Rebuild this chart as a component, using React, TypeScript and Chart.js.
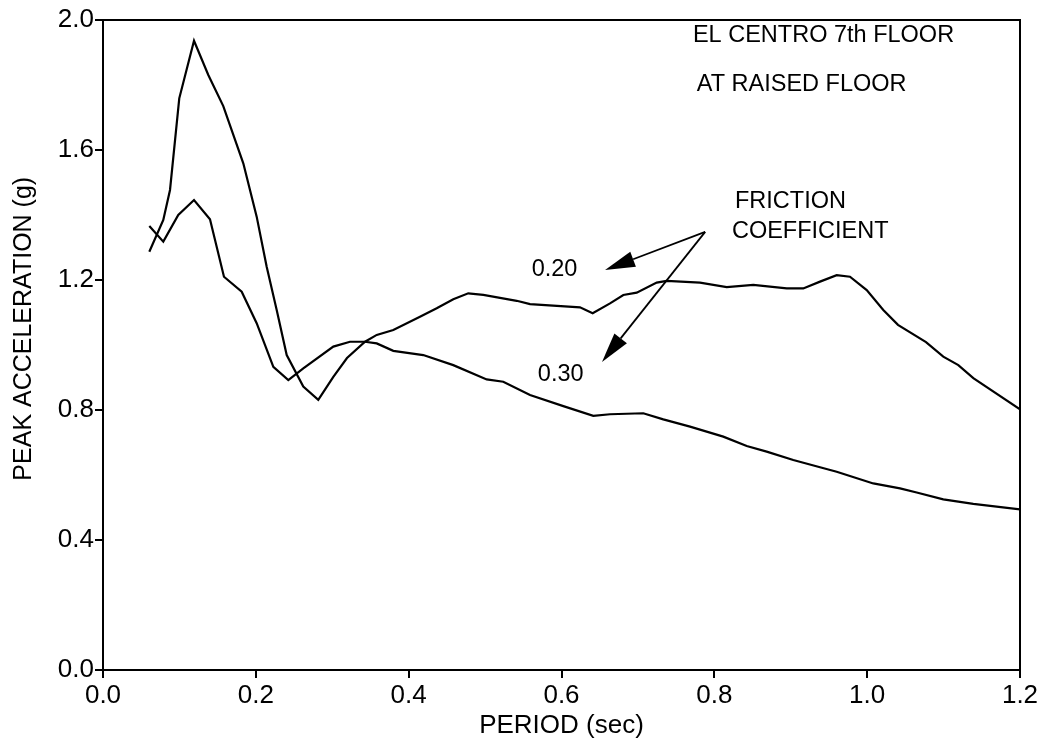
import React, { useEffect, useRef } from "react";
import { Chart, registerables } from "chart.js";

Chart.register(...registerables);

// Friction coefficient 0.20 (tall early peak, stays high)
const periodA = [0.0606, 0.0789, 0.0877, 0.0998, 0.1191, 0.1378, 0.1574, 0.1836, 0.2011, 0.2142, 0.2273, 0.2404, 0.2621, 0.2817, 0.3014, 0.3193, 0.3429, 0.3582, 0.3799, 0.4148, 0.4367, 0.4584, 0.478, 0.4977, 0.5414, 0.5588, 0.6242, 0.6408, 0.6635, 0.6809, 0.6984, 0.7246, 0.7377, 0.7812, 0.8162, 0.851, 0.8947, 0.9164, 0.9383, 0.9601, 0.9775, 0.9994, 1.0211, 1.0403, 1.077, 1.0996, 1.1193, 1.1389, 1.2];
const accelA = [1.287, 1.385, 1.477, 1.759, 1.936, 1.831, 1.735, 1.559, 1.395, 1.241, 1.108, 0.969, 0.872, 0.831, 0.902, 0.96, 1.01, 1.031, 1.046, 1.087, 1.113, 1.141, 1.159, 1.154, 1.136, 1.126, 1.116, 1.098, 1.128, 1.154, 1.161, 1.192, 1.197, 1.192, 1.178, 1.185, 1.174, 1.174, 1.195, 1.215, 1.21, 1.169, 1.108, 1.062, 1.009, 0.964, 0.938, 0.898, 0.802];

// Friction coefficient 0.30
const periodB = [0.0606, 0.0789, 0.0985, 0.1191, 0.14, 0.1583, 0.1815, 0.2011, 0.2229, 0.2425, 0.2621, 0.3014, 0.3232, 0.3429, 0.3582, 0.3799, 0.4191, 0.4584, 0.5021, 0.5238, 0.5588, 0.6024, 0.6416, 0.6635, 0.707, 0.7332, 0.7682, 0.8117, 0.8424, 0.8685, 0.9033, 0.9383, 0.9601, 1.008, 1.043, 1.0648, 1.0996, 1.1389, 1.2];
const accelB = [1.366, 1.318, 1.4, 1.446, 1.387, 1.21, 1.164, 1.067, 0.933, 0.892, 0.928, 0.995, 1.01, 1.01, 1.005, 0.982, 0.969, 0.938, 0.894, 0.887, 0.846, 0.812, 0.782, 0.787, 0.79, 0.771, 0.749, 0.718, 0.689, 0.672, 0.646, 0.624, 0.61, 0.574, 0.559, 0.546, 0.525, 0.511, 0.494];

const xTickValues = [0, 0.2, 0.4, 0.6, 0.8, 1.0, 1.2];
const yTickValues = [0, 0.4, 0.8, 1.2, 1.6, 2.0];

const xTitle = "PERIOD (sec)";
const yTitle = "PEAK ACCELERATION (g)";
// value on the y axis where the rotated y title is centred
const yTitleCenter = 1.05;

// Annotation texts, anchored in data coordinates (left edge, vertical middle)
const noteTexts = ["EL CENTRO 7th FLOOR", "AT RAISED FLOOR", "FRICTION", "COEFFICIENT", "0.20", "0.30"];
const noteX = [0.772, 0.777, 0.827, 0.823, 0.561, 0.569];
const noteY = [1.951, 1.803, 1.443, 1.348, 1.231, 0.908];

// Arrows from the "FRICTION COEFFICIENT" label to each curve label
const arrowStart = [0.788, 1.348];
const arrowTipX = [0.657, 0.653];
const arrowTipY = [1.231, 0.948];

const FONT = '"Liberation Sans", Arial, Helvetica, sans-serif';

const framePlugin = {
  id: "frame",
  afterDraw(chart: any) {
    const { ctx, chartArea } = chart;
    const { left, top, right, bottom } = chartArea;
    ctx.save();
    ctx.strokeStyle = "#000";
    ctx.lineWidth = 2;
    ctx.strokeRect(left, top, right - left, bottom - top);
    ctx.restore();
  },
};

const notesPlugin = {
  id: "notes",
  afterDraw(chart: any) {
    const { ctx } = chart;
    const xs = chart.scales.x;
    const ys = chart.scales.y;
    ctx.save();
    ctx.fillStyle = "#000";
    // rotated y-axis title
    ctx.save();
    ctx.translate(24, ys.getPixelForValue(yTitleCenter));
    ctx.rotate(-Math.PI / 2);
    ctx.font = `25px ${FONT}`;
    ctx.textAlign = "center";
    ctx.textBaseline = "middle";
    ctx.fillText(yTitle, 0, 0);
    ctx.restore();

    ctx.font = `23.5px ${FONT}`;
    ctx.textAlign = "left";
    ctx.textBaseline = "middle";
    noteTexts.forEach((t, i) => {
      ctx.fillText(t, xs.getPixelForValue(noteX[i]), ys.getPixelForValue(noteY[i]));
    });
    const sx = xs.getPixelForValue(arrowStart[0]);
    const sy = ys.getPixelForValue(arrowStart[1]);
    ctx.strokeStyle = "#000";
    ctx.lineWidth = 1.8;
    arrowTipX.forEach((_, i) => {
      const tx = xs.getPixelForValue(arrowTipX[i]);
      const ty = ys.getPixelForValue(arrowTipY[i]);
      const ang = Math.atan2(ty - sy, tx - sx);
      const headLen = 30;
      const halfW = 8;
      const bx = tx - headLen * Math.cos(ang);
      const by = ty - headLen * Math.sin(ang);
      ctx.beginPath();
      ctx.moveTo(sx, sy);
      ctx.lineTo(bx, by);
      ctx.stroke();
      ctx.beginPath();
      ctx.moveTo(tx, ty);
      ctx.lineTo(bx + halfW * Math.sin(ang), by - halfW * Math.cos(ang));
      ctx.lineTo(bx - halfW * Math.sin(ang), by + halfW * Math.cos(ang));
      ctx.closePath();
      ctx.fill();
    });
    ctx.restore();
  },
};

export default function App() {
  const canvasRef = useRef<HTMLCanvasElement | null>(null);

  useEffect(() => {
    const canvas = canvasRef.current;
    if (!canvas) return;
    const dataA = periodA.map((x, i) => ({ x, y: accelA[i] }));
    const dataB = periodB.map((x, i) => ({ x, y: accelB[i] }));
    const chart = new Chart(canvas, {
      type: "line",
      data: {
        datasets: [
          { label: "0.20", data: dataA, borderColor: "#000", borderWidth: 2.2, pointRadius: 0, tension: 0, fill: false },
          { label: "0.30", data: dataB, borderColor: "#000", borderWidth: 2.2, pointRadius: 0, tension: 0, fill: false },
        ],
      },
      options: {
        animation: false,
        responsive: false,
        devicePixelRatio: 1,
        layout: { padding: { left: 0, top: 20, right: 32, bottom: 0 } },
        plugins: { legend: { display: false }, tooltip: { enabled: false } },
        scales: {
          x: {
            type: "linear",
            min: 0,
            max: 1.2,
            afterFit: (s: any) => { s.height = 77; },
            afterBuildTicks: (s: any) => { s.ticks = xTickValues.map((v) => ({ value: v })); },
            ticks: {
              color: "#000",
              padding: 2,
              maxRotation: 0,
              autoSkip: false,
              font: { family: FONT, size: 26 },
              callback: (v: any) => Number(v).toFixed(1),
            },
            grid: { drawOnChartArea: false, drawTicks: true, tickLength: 8, color: "#000", lineWidth: 2 },
            border: { display: true, color: "#000", width: 2 },
            title: { display: true, text: xTitle, color: "#000", font: { family: FONT, size: 26 }, padding: { top: 0, bottom: 6 } },
          },
          y: {
            type: "linear",
            min: 0,
            max: 2.0,
            afterFit: (s: any) => { s.width = 103; },
            afterBuildTicks: (s: any) => { s.ticks = yTickValues.map((v) => ({ value: v })); },
            ticks: {
              color: "#000",
              padding: 1,
              autoSkip: false,
              font: { family: FONT, size: 26 },
              callback: (v: any) => Number(v).toFixed(1),
            },
            grid: { drawOnChartArea: false, drawTicks: true, tickLength: 8, color: "#000", lineWidth: 2 },
            border: { display: true, color: "#000", width: 2 },
            title: { display: false, text: yTitle },
          },
        },
      },
      plugins: [framePlugin, notesPlugin],
    });
    return () => chart.destroy();
  }, []);

  return (
    <div style={{ position: "fixed", left: 0, top: 0, width: 1052, height: 747, background: "#fff" }}>
      <canvas ref={canvasRef} width={1052} height={747} style={{ width: 1052, height: 747, display: "block" }} />
    </div>
  );
}
